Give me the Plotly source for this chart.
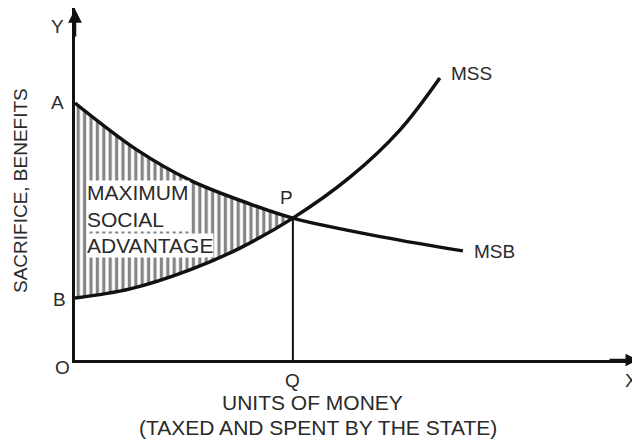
import plotly.graph_objects as go

# ---- data (arbitrary units) ----
MSB_X = [0.0, 1.10, 2.04, 3.06, 3.87, 5.47, 6.89]
MSB_Y = [7.30, 5.97, 5.11, 4.46, 4.03, 3.49, 3.10]
MSS_X = [0.0, 0.98, 2.04, 2.93, 3.87, 4.89, 5.77, 6.48]
MSS_Y = [1.76, 2.02, 2.56, 3.18, 4.03, 5.20, 6.53, 8.01]
P_INDEX_MSB = 4
P_INDEX_MSS = 4
CURVE_NAMES = ["MSB", "MSS"]
AREA_TEXT = ["MAXIMUM<br>SOCIAL", "ADVANTAGE"]
X_TITLE = ["UNITS OF MONEY", "(TAXED AND SPENT BY THE STATE)"]
Y_TITLE = "SACRIFICE, BENEFITS"

P_X = MSB_X[P_INDEX_MSB]
P_Y = MSB_Y[P_INDEX_MSB]

FONT = "Liberation Sans, Arial, sans-serif"
TXT = "#2a2a2a"
INK = "#111111"

fig = go.Figure()

# hatched region between the curves, from the Y axis to P
fig.add_trace(go.Scatter(
    x=MSS_X[:P_INDEX_MSS + 1], y=MSS_Y[:P_INDEX_MSS + 1],
    mode="lines", line=dict(width=0, shape="spline"),
    hoverinfo="skip", showlegend=False))
fig.add_trace(go.Scatter(
    x=MSB_X[:P_INDEX_MSB + 1], y=MSB_Y[:P_INDEX_MSB + 1],
    mode="lines", line=dict(width=0, shape="spline"),
    fill="tonexty", fillcolor="white",
    fillpattern=dict(shape="|", size=6.4, solidity=0.5,
                     fgcolor="#0a0a0a", bgcolor="white", fillmode="overlay"),
    hoverinfo="skip", showlegend=False))

# the two curves
fig.add_trace(go.Scatter(x=MSB_X, y=MSB_Y, mode="lines", name=CURVE_NAMES[0],
                         line=dict(color=INK, width=3.5, shape="spline"),
                         showlegend=False))
fig.add_trace(go.Scatter(x=MSS_X, y=MSS_Y, mode="lines", name=CURVE_NAMES[1],
                         line=dict(color=INK, width=3.5, shape="spline"),
                         showlegend=False))
# PQ vertical
fig.add_trace(go.Scatter(x=[P_X, P_X], y=[0, P_Y], mode="lines",
                         line=dict(color=INK, width=2), showlegend=False))

f21 = dict(family=FONT, size=21, color=TXT)
f19 = dict(family=FONT, size=19, color=TXT)

ann = []
# area text with white background
ann.append(dict(x=0.2, y=5.10, xref="x", yref="y", xanchor="left", yanchor="top",
                text=AREA_TEXT[0], align="left", showarrow=False, font=f21,
                bgcolor="white", borderpad=0))
ann.append(dict(x=0.2, y=2.90, xref="x", yref="y", xanchor="left", yanchor="bottom",
                text=AREA_TEXT[1], align="left", showarrow=False, font=f21,
                bgcolor="white", borderpad=0))
# point labels
ann.append(dict(x=0, y=MSB_Y[0], xref="x", yref="y", text="A", showarrow=False,
                font=f19, xanchor="center", xshift=-18, yshift=1))
ann.append(dict(x=0, y=MSS_Y[0], xref="x", yref="y", text="B", showarrow=False,
                font=f19, xanchor="center", xshift=-16, yshift=-1))
ann.append(dict(x=0, y=0, xref="x", yref="y", text="O", showarrow=False,
                font=f19, xanchor="center", xshift=-13, yshift=-7))
ann.append(dict(x=P_X, y=P_Y, xref="x", yref="y", text="P", showarrow=False,
                font=f19, xanchor="center", xshift=-6, yshift=21))
ann.append(dict(x=P_X, y=0, xref="x", yref="y", text="Q", showarrow=False,
                font=f19, xanchor="center", yshift=-20))
ann.append(dict(x=1, y=0, xref="paper", yref="y", text="X", showarrow=False,
                font=f19, xanchor="right", xshift=2, yshift=-20))
ann.append(dict(x=0, y=1, xref="x", yref="paper", text="Y", showarrow=False,
                font=f19, xanchor="center", xshift=-18, yshift=-6))
ann.append(dict(x=MSS_X[-1], y=MSS_Y[-1], xref="x", yref="y", text=CURVE_NAMES[1],
                showarrow=False, font=f19, xanchor="left", xshift=9, yshift=5))
ann.append(dict(x=MSB_X[-1], y=MSB_Y[-1], xref="x", yref="y", text=CURVE_NAMES[0],
                showarrow=False, font=f19, xanchor="left", xshift=9, yshift=-1))
# axis titles
ann.append(dict(x=4.21, y=0, xref="x", yref="y", text=X_TITLE[0], showarrow=False,
                font=f21, xanchor="center", yshift=-42))
ann.append(dict(x=4.31, y=0, xref="x", yref="y", text=X_TITLE[1], showarrow=False,
                font=f21, xanchor="center", yshift=-67))
ann.append(dict(x=0, y=4.80, xref="paper", yref="y", text=Y_TITLE, showarrow=False,
                font=f19, textangle=-90, xanchor="center", xshift=-55))
# arrow heads on the axes
ann.append(dict(x=0, y=1, xref="x", yref="paper", ax=0, ay=30, text="",
                showarrow=True, arrowhead=2, arrowwidth=2.5, arrowsize=1.1,
                arrowcolor=INK, standoff=0))
ann.append(dict(x=1, y=0, xref="paper", yref="y", ax=-30, ay=0, text="",
                showarrow=True, arrowhead=2, arrowwidth=2.5, arrowsize=1,
                arrowcolor=INK, standoff=0))

# the page body adds an 8px offset, so the figure is sized to fit the window
fig.update_layout(
    width=632, height=439, autosize=False,
    margin=dict(l=67, r=2, t=0, b=87),
    paper_bgcolor="white", plot_bgcolor="white",
    annotations=ann, showlegend=False,
)
fig.update_xaxes(range=[0, 10], showline=True, linecolor=INK, linewidth=2.5,
                 showgrid=False, zeroline=False, showticklabels=False, ticks="")
fig.update_yaxes(range=[0, 10], showline=True, linecolor=INK, linewidth=2.5,
                 showgrid=False, zeroline=False, showticklabels=False, ticks="")

fig.write_html("out.html")
